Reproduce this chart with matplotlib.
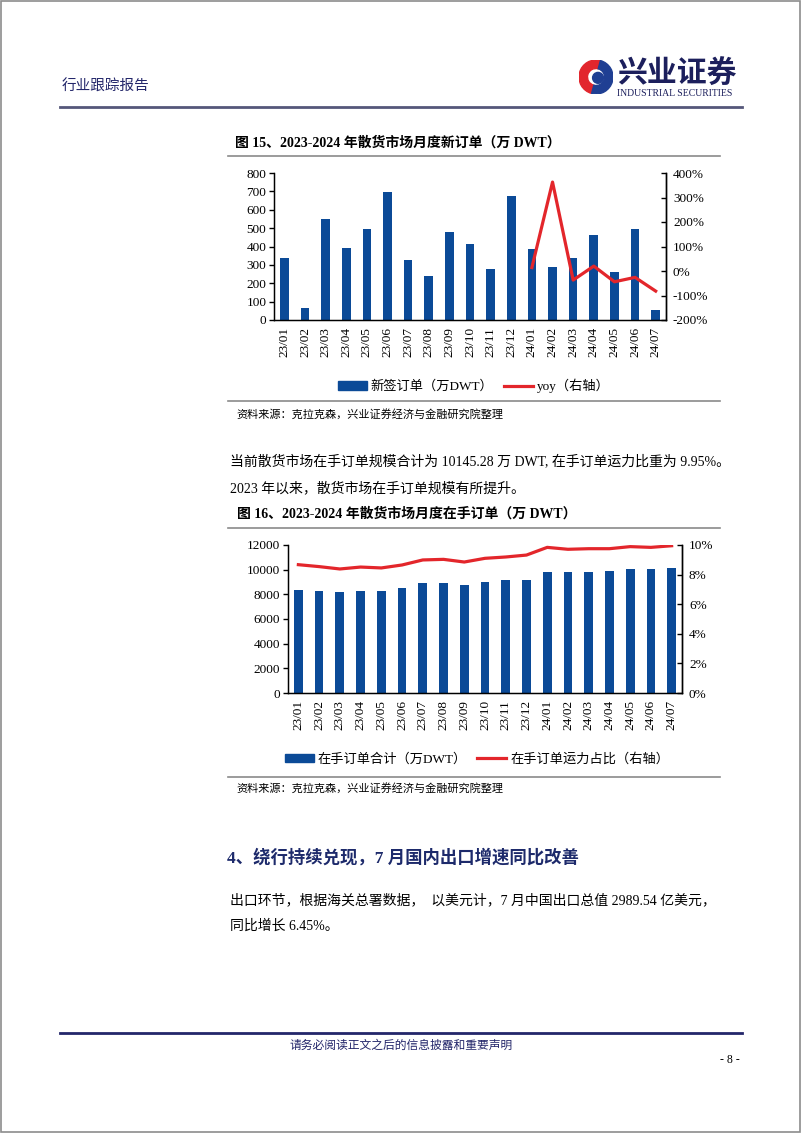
import matplotlib
matplotlib.use("Agg")
from matplotlib import pyplot as plt
from matplotlib.patches import Patch, Rectangle, Wedge, Circle
from matplotlib.lines import Line2D
from matplotlib.font_manager import FontProperties
from matplotlib.ticker import FuncFormatter, MultipleLocator

months = ["23/01", "23/02", "23/03", "23/04", "23/05", "23/06", "23/07", "23/08",
          "23/09", "23/10", "23/11", "23/12", "24/01", "24/02", "24/03", "24/04",
          "24/05", "24/06", "24/07"]

# fig 15: new orders (10k DWT) and yoy (%), yoy only from 24/01
new_orders = [335, 63, 552, 393, 496, 699, 329, 239, 481, 411, 277, 677,
              389, 288, 335, 462, 259, 496, 52]
yoy_months = months[12:]
yoy = [14, 363, -37, 20, -44, -26, -82]

# fig 16: orderbook (10k DWT) and orderbook/fleet ratio (%)
orderbook = [8378, 8297, 8189, 8297, 8270, 8514, 8919, 8946, 8784, 9000,
             9162, 9135, 9838, 9784, 9838, 9865, 10027, 10027, 10145]
ratio = [8.67, 8.54, 8.38, 8.51, 8.45, 8.65, 8.99, 9.03, 8.85, 9.10,
         9.19, 9.32, 9.84, 9.71, 9.75, 9.75, 9.89, 9.84, 9.95]

BLUE = "#0b4a97"
RED = "#e3262b"
NAVY = "#23266a"
MIX = ["Liberation Serif", "Noto Sans CJK SC"]
CJK = ["Noto Sans CJK SC", "DejaVu Sans"]
TICK = 9.5

W, H = 802, 1133
fig = plt.figure(figsize=(W / 100, H / 100), dpi=100)


def fx(x):
    return x / W


def fy(y):
    return 1 - y / H


def text(x, y, s, size=10, family=MIX, **kw):
    kw.setdefault("va", "center")
    kw.setdefault("ha", "left")
    fig.text(fx(x), fy(y), s, fontsize=size, family=family, **kw)


def hline(x0, x1, y, color="#8a8a8a", lw=1.2):
    fig.add_artist(Line2D([fx(x0), fx(x1)], [fy(y), fy(y)], color=color, lw=lw))


# page frame
fig.add_artist(Rectangle((0.001, 0.001), 0.997, 0.998, transform=fig.transFigure,
                         fill=False, edgecolor="#8c8c8c", lw=1.2))

# header
text(62, 87, "行业跟踪报告", size=10.5, family=CJK, color=NAVY)
logo = fig.add_axes([fx(579), fy(94), 34 / W, 34 / H])
logo.set_xlim(-1, 1)
logo.set_ylim(-1, 1)
logo.axis("off")
logo.add_patch(Wedge((0, 0), 1, 75, 255, width=0.5, color="#e2262d"))
logo.add_patch(Wedge((0, 0), 1, -105, 75, width=0.5, color="#1f3f93"))
logo.add_patch(Circle((0.12, -0.05), 0.32, color="#1f3f93"))
text(617, 74, "兴业证券", size=21.5, family=CJK, color="#1c1f5c", fontweight="bold")
text(617, 93, "INDUSTRIAL SECURITIES", size=7, family=["Liberation Serif"], color="#1c1f5c")
hline(60, 742, 107, color="#55577a", lw=2)


def dual_chart(top, left, right, bottom, bars, bar_lim, bar_step, line_x, line_y,
               line_lim, line_step, fmt_right):
    ax = fig.add_axes([fx(left), fy(bottom), (right - left) / W, (bottom - top) / H])
    x = list(range(len(months)))
    ax.bar(x, bars, width=0.42, color=BLUE, zorder=2)
    ax.set_xlim(-0.5, len(months) - 0.5)
    ax.set_ylim(*bar_lim)
    ax.yaxis.set_major_locator(MultipleLocator(bar_step))
    ax.set_xticks(x)
    ax.set_xticklabels(months, rotation=90, family="Liberation Serif", fontsize=TICK)
    ax.tick_params(axis="x", length=0, pad=5)
    ax.tick_params(axis="y", length=3.5, width=1, pad=2, labelsize=TICK, direction="out")
    for lab in ax.get_yticklabels():
        lab.set_family("Liberation Serif")
    ax.spines["top"].set_visible(False)
    for s in ("left", "bottom", "right"):
        ax.spines[s].set_linewidth(1)

    ax2 = ax.twinx()
    idx = [months.index(m) for m in line_x]
    ax2.plot(idx, line_y, color=RED, lw=2.3, zorder=3)
    ax2.set_ylim(*line_lim)
    ax2.yaxis.set_major_locator(MultipleLocator(line_step))
    ax2.yaxis.set_major_formatter(FuncFormatter(fmt_right))
    ax2.tick_params(axis="y", length=3.5, width=1, pad=5, labelsize=TICK, direction="in")
    for lab in ax2.get_yticklabels():
        lab.set_family("Liberation Serif")
    ax2.spines["top"].set_visible(False)
    ax2.spines["right"].set_linewidth(1)
    return ax, ax2


def legend(cx, cy, labels):
    handles = [Patch(facecolor=BLUE, edgecolor=BLUE),
               Line2D([0], [0], color=RED, lw=2.3)]
    fig.legend(handles, labels, loc="center", bbox_to_anchor=(fx(cx), fy(cy)),
               ncol=2, frameon=False, prop=FontProperties(family=MIX, size=9.5),
               handlelength=2.2, handleheight=0.6, handletextpad=0.3,
               columnspacing=0.8, borderpad=0)


# figure 15
text(235, 143, "图 15、2023-2024 年散货市场月度新订单（万 DWT）", size=10, fontweight="bold")
hline(228, 720, 156)
dual_chart(173, 274, 666, 320, new_orders, (0, 800), 100, yoy_months, yoy,
           (-200, 400), 100, lambda v, p: f"{v:.0f}%")
legend(474, 386, ["新签订单（万DWT）", "yoy（右轴）"])
hline(228, 720, 401)
text(236, 414, "资料来源：克拉克森，兴业证券经济与金融研究院整理", size=8)

# paragraph
text(230, 461, "当前散货市场在手订单规模合计为 10145.28 万 DWT, 在手订单运力比重为 9.95%。", size=10)
text(230, 488, "2023 年以来，散货市场在手订单规模有所提升。", size=10)

# figure 16
text(237, 514, "图 16、2023-2024 年散货市场月度在手订单（万 DWT）", size=10, fontweight="bold")
hline(228, 720, 528)
dual_chart(545, 288, 682, 693, orderbook, (0, 12000), 2000, months, ratio,
           (0, 10), 2, lambda v, p: f"{v:.0f}%")
legend(477, 759, ["在手订单合计（万DWT）", "在手订单运力占比（右轴）"])
hline(228, 720, 777)
text(236, 788, "资料来源：克拉克森，兴业证券经济与金融研究院整理", size=8)

# section 4
text(227, 858, "4、绕行持续兑现，7 月国内出口增速同比改善", size=12.5, color="#1d2a6b",
     fontweight="bold")
text(230, 900, "出口环节，根据海关总署数据，  以美元计，7 月中国出口总值 2989.54 亿美元，", size=10)
text(230, 926, "同比增长 6.45%。", size=10)

# footer
hline(60, 742, 1033, color=NAVY, lw=2)
text(401, 1045, "请务必阅读正文之后的信息披露和重要声明", size=8.5, family=CJK,
     color=NAVY, ha="center")
text(740, 1060, "- 8 -", size=8.5, family=["Liberation Serif"], ha="right")

fig.savefig("out.png", dpi=100)
